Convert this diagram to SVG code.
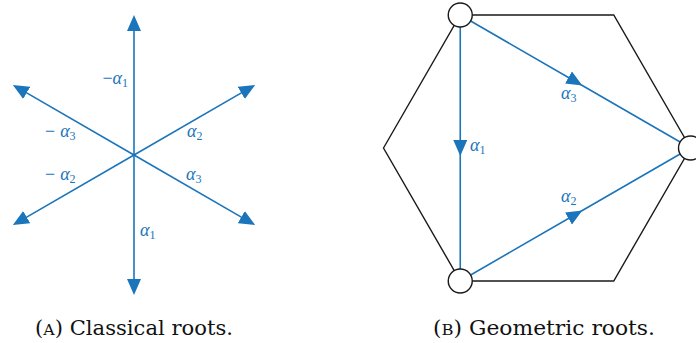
<svg xmlns="http://www.w3.org/2000/svg" width="696" height="343" viewBox="0 0 696 343">
<style>
.ax{stroke:#1b75bb;stroke-width:1.6;fill:none}
.hex{stroke:#1a1a1a;stroke-width:1.4;fill:none}
.nd{fill:#fff;stroke:#1a1a1a;stroke-width:1.4}
.m{fill:#1b75bb;font-family:"Liberation Serif","DejaVu Serif",serif;font-size:18px}
.m .a{font-style:italic}
.m .s{font-size:12px}
.cap{fill:#111;font-family:"DejaVu Serif","Liberation Serif",serif;font-size:20px}
.cap .sc{font-size:15px}
</style>
<defs>
<marker id="ah" viewBox="0 0 16 14" refX="6" refY="7" markerWidth="16" markerHeight="14" markerUnits="userSpaceOnUse" orient="auto">
<path d="M0,0 L16,7 L0,14 z" fill="#1b75bb"/>
</marker>
<marker id="mh" viewBox="0 0 16 14" refX="16" refY="7" markerWidth="16" markerHeight="14" markerUnits="userSpaceOnUse" orient="auto">
<path d="M0,0 L16,7 L0,14 z" fill="#1b75bb"/>
</marker>
</defs>
<rect width="696" height="343" fill="#fff"/>

<!-- (A) Classical roots -->
<g id="classical-connectors">
<line class="ax" x1="134" y1="155" x2="134" y2="25" marker-end="url(#ah)"/>
<line class="ax" x1="134" y1="155" x2="134" y2="285" marker-end="url(#ah)"/>
<line class="ax" x1="134" y1="155" x2="246.5" y2="89.9" marker-end="url(#ah)"/>
<line class="ax" x1="134" y1="155" x2="21.5" y2="89.9" marker-end="url(#ah)"/>
<line class="ax" x1="134" y1="155" x2="246.5" y2="220.1" marker-end="url(#ah)"/>
<line class="ax" x1="134" y1="155" x2="21.5" y2="220.1" marker-end="url(#ah)"/>
</g>
<g id="classical-labels">
<text class="m" x="128" y="84" text-anchor="end">−<tspan class="a">α</tspan><tspan class="s" dy="3">1</tspan></text>
<text class="m" x="45" y="137">−<tspan class="a" dx="5">α</tspan><tspan class="s" dy="3">3</tspan></text>
<text class="m" x="187" y="137"><tspan class="a">α</tspan><tspan class="s" dy="3">2</tspan></text>
<text class="m" x="45" y="180">−<tspan class="a" dx="5">α</tspan><tspan class="s" dy="3">2</tspan></text>
<text class="m" x="186" y="180"><tspan class="a">α</tspan><tspan class="s" dy="3">3</tspan></text>
<text class="m" x="140" y="236"><tspan class="a">α</tspan><tspan class="s" dy="3">1</tspan></text>
</g>
<text class="cap" x="35" y="335" textLength="198" lengthAdjust="spacingAndGlyphs">(<tspan class="sc">A</tspan>) Classical roots.</text>

<!-- (B) Geometric roots -->
<g id="hexagon">
<polygon class="hex" points="383.5,148 460.25,15 613.75,15 690.5,148 613.75,281 460.25,281"/>
</g>
<g id="geometric-connectors">
<path class="ax" d="M460.25,15 L460.25,156 L460.25,281" marker-mid="url(#mh)"/>
<path class="ax" d="M460.25,15 L582.3,85.5 L690.5,148" marker-mid="url(#mh)"/>
<path class="ax" d="M460.25,281 L582.3,210.5 L690.5,148" marker-mid="url(#mh)"/>
</g>
<g id="node-top"><circle class="nd" cx="460.25" cy="15" r="12"/></g>
<g id="node-right"><circle class="nd" cx="690.5" cy="148" r="12"/></g>
<g id="node-bottom"><circle class="nd" cx="460.25" cy="281" r="12"/></g>
<g id="geometric-labels">
<text class="m" x="470" y="151"><tspan class="a">α</tspan><tspan class="s" dy="3">1</tspan></text>
<text class="m" x="561" y="99"><tspan class="a">α</tspan><tspan class="s" dy="3">3</tspan></text>
<text class="m" x="561" y="202"><tspan class="a">α</tspan><tspan class="s" dy="3">2</tspan></text>
</g>
<text class="cap" x="433" y="335" textLength="222" lengthAdjust="spacingAndGlyphs">(<tspan class="sc">B</tspan>) Geometric roots.</text>
</svg>
